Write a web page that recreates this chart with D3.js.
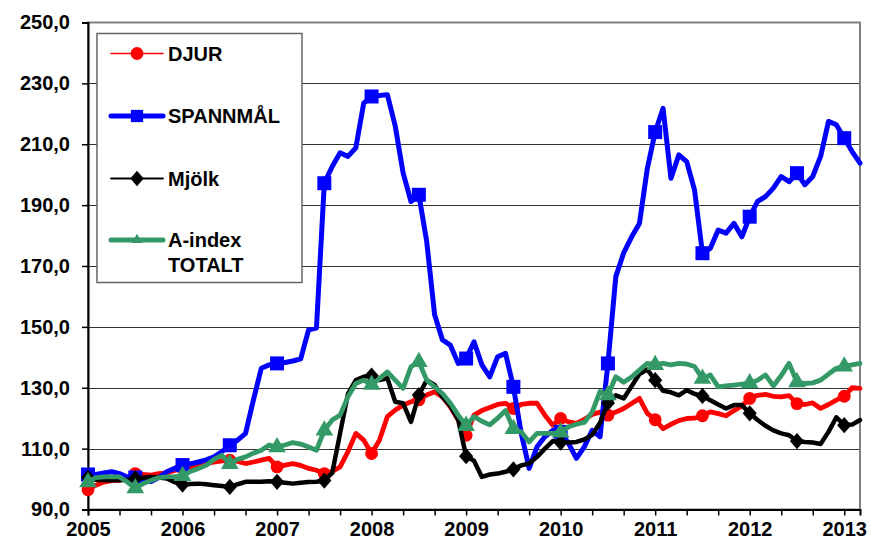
<!DOCTYPE html>
<html>
<head>
<meta charset="utf-8">
<script src="https://cdn.jsdelivr.net/npm/d3@7"></script>
<style>
  body { margin: 0; background: #fff; }
  text { font-family: "Liberation Sans", Arial, sans-serif; font-weight: bold; }
</style>
</head>
<body>
<div id="chart"></div>
<script>
// monthly index values, Jan 2005 .. Mar 2013
const years = ["2005", "2006", "2007", "2008", "2009", "2010", "2011", "2012", "2013"];
const yTicks = [90, 110, 130, 150, 170, 190, 210, 230, 250];

const djur = [96.5, 98, 99, 99.5, 99.6, 100.5, 101.8, 101.5, 101.3, 101.8, 102, 102.8,
  103.5, 104, 104.6, 105, 105.6, 106, 106.2, 105.8, 105.1, 105.6, 106.2, 106.8,
  104, 104.6, 105.1, 104.5, 103.5, 102.9, 101.8, 102.5, 104, 109, 115, 112.8,
  108.4, 112.8, 120.5, 122.7, 124.3, 125.4, 126, 127.6, 128.7, 127, 123.7, 119.4,
  114.4, 121, 122.5, 123.5, 124.5, 124.9, 123.2, 124.5, 124.9, 124.9, 121, 117.7,
  119.9, 118.8, 118.3, 119.6, 121.2, 122, 121, 122, 123.2, 124.8, 126.5, 121.6,
  119.5, 116.6, 118, 119.2, 119.9, 120, 120.8, 122.1, 121.5, 120.8, 122.5, 124,
  126.5, 127.5, 127.8, 127.2, 127, 127.4, 124.8, 124.5, 125, 123.2, 124.5, 125.9,
  127.2, 130, 129.8];

const spannmal = [101.5, 101.5, 102, 102.4, 101.8, 100.7, 100.5, 99.3, 99.2, 100.5, 102.4, 103.5,
  104.6, 105, 105.6, 106.3, 107.3, 109, 111.1, 112.8, 115, 126, 136.4, 137.5,
  138, 138.3, 138.8, 139.5, 149, 149.6, 197.2, 202.7, 207.2, 206, 208.8, 223.5,
  225.7, 226, 226.3, 216, 200.6, 191.2, 193.4, 178, 154, 145.7, 144, 138,
  139.6, 145.1, 137.5, 133.6, 140.2, 141.3, 130.3, 115, 103.5, 110.6, 113.9, 116,
  115.5, 111.7, 106.8, 110.6, 116, 113.9, 138, 166.5, 174.3, 179.5, 184, 202,
  214, 221.8, 198.8, 206.5, 204.3, 194.9, 174.2, 175.8, 181.8, 180.8, 184, 179.6,
  186.2, 191.2, 192.8, 195.6, 199.4, 197.7, 200.5, 196.7, 199.4, 206, 217.5, 216.4,
  212, 207.6, 203.8];

const mjolk = [100.5, 99.8, 99.6, 99.6, 99.6, 99.8, 100.2, 100.4, 100.7, 100.5, 100.2, 99,
  98.2, 98.4, 98.5, 98.3, 98, 97.7, 97.4, 98.3, 99.1, 99.1, 99.1, 99.3,
  99.1, 98.8, 98.5, 98.8, 99, 99.1, 99.5, 102, 115, 128, 132.5, 133.6,
  134, 132.5, 133.1, 125.4, 124.9, 118.8, 127.6, 132.5, 130.9, 127, 124, 119.4,
  107.5, 106, 100.7, 101.5, 101.8, 102.4, 103.2, 104.5, 105.1, 107.3, 110, 112.5,
  112, 112, 112.2, 113, 114.5, 118.5, 125, 127.5, 126.5, 130.5, 134.5, 136,
  132.5, 129, 128.5, 127.5, 129.2, 128, 127.3, 125.9, 124.5, 123.2, 124.3, 124.3,
  121.6, 119.4, 117.5, 116, 115, 114.4, 112.5, 112.2, 112, 111.5, 115.5, 120.3,
  117.7, 117.9, 119.4];

const aindex = [99, 100.5, 100.7, 100.7, 100.7, 99, 97, 98.5, 99.5, 100.5, 100.7, 100.8,
  101, 102.5, 103.5, 104.5, 106.5, 107.8, 105, 106.5, 107.3, 108.5, 109.5, 111.2,
  110.5, 111.2, 112, 111.5, 110.5, 109.5, 116, 119.4, 121, 127, 131.4, 132.5,
  131, 133, 135.2, 132.5, 129.8, 136.9, 138.5, 132.5, 130.3, 128.1, 124.9, 121,
  117.5, 120.5, 119, 117.8, 120, 122.5, 116.5, 115.5, 112.2, 115, 115, 115,
  115.3, 117.2, 118, 118.6, 122, 128.8, 127.6, 133.6, 131.8, 133.5, 135.8, 138,
  137.5, 138, 137.5, 138, 137.8, 137, 133, 134.2, 130.3, 130.6, 130.9, 131.2,
  131.5, 132.5, 134.2, 130.6, 134, 138, 131.8, 131.4, 131.6, 132.5, 134.5, 136.4,
  137, 137.5, 138];

// square turned 45 degrees, a bit taller than wide, like the spreadsheet diamond
const diamond = {
  draw(ctx, size) {
    const r = Math.sqrt(size / 2);
    ctx.moveTo(0, -r * 1.15);
    ctx.lineTo(r, 0);
    ctx.lineTo(0, r * 1.15);
    ctx.lineTo(-r, 0);
    ctx.closePath();
  }
};

const series = [
  {name: ["DJUR"], values: djur, color: "#ff0000", lw: 4.8, legLw: 1.5, symbol: d3.symbolCircle, size: 130, legSize: 130},
  {name: ["SPANNMÅL"], values: spannmal, color: "#0000ff", lw: 5, legLw: 5, symbol: d3.symbolSquare, size: 196, legSize: 150},
  {name: ["Mjölk"], values: mjolk, color: "#000000", lw: 4.5, legLw: 1.8, symbol: diamond, size: 100, legSize: 90},
  {name: ["A-index", "TOTALT"], values: aindex, color: "#339966", lw: 4.8, legLw: 5, symbol: d3.symbolTriangle, size: 135, legSize: 50}
];

const W = 871, H = 545;
const plotL = 88, plotR = 860, plotT = 22.5, plotB = 509.5;

const svg = d3.select("#chart").append("svg")
  .attr("width", W)
  .attr("height", H);

const x = d3.scaleLinear()
  .domain([0, djur.length - 1])
  .range([plotL, plotR]);

const y = d3.scaleLinear()
  .domain([90, 250])
  .range([plotB, plotT]);

// grid lines
svg.append("g")
  .selectAll("line")
  .data(yTicks.filter(v => v > 90 && v < 250))
  .enter()
  .append("line")
  .attr("x1", plotL)
  .attr("x2", plotR)
  .attr("y1", d => Math.round(y(d)) + 0.5)
  .attr("y2", d => Math.round(y(d)) + 0.5)
  .attr("stroke", "#333")
  .attr("stroke-width", 1.2);

// plot area border
svg.append("rect")
  .attr("x", plotL)
  .attr("y", plotT)
  .attr("width", plotR - plotL)
  .attr("height", plotB - plotT)
  .attr("fill", "none")
  .attr("stroke", "#808080")
  .attr("stroke-width", 2);

// y axis
const yAxis = svg.append("g")
  .attr("transform", "translate(" + plotL + ",0)")
  .call(d3.axisLeft(y)
    .tickValues(yTicks)
    .tickSize(6)
    .tickPadding(12)
    .tickFormat(d => d3.format(".1f")(d).replace(".", ",")));
yAxis.select(".domain").attr("stroke", "#000").attr("stroke-width", 2);
yAxis.selectAll(".tick line").attr("stroke", "#000").attr("stroke-width", 1.5);
yAxis.selectAll("text")
  .attr("font-size", "20px")
  .attr("fill", "#000")
  .attr("font-family", "'Liberation Sans', Arial, sans-serif")
  .attr("font-weight", "bold");

// x axis
const xAxis = svg.append("g")
  .attr("transform", "translate(0," + plotB + ")")
  .call(d3.axisBottom(x)
    .tickValues(d3.range(0, djur.length, 4))
    .tickSize(6)
    .tickPadding(6)
    .tickFormat(i => i % 12 === 0 ? years[i / 12] : ""));
xAxis.select(".domain").attr("stroke", "#000").attr("stroke-width", 2);
xAxis.selectAll(".tick line").attr("stroke", "#000").attr("stroke-width", 1.5);
xAxis.selectAll("text")
  .attr("font-size", "20px")
  .attr("fill", "#000")
  .attr("font-family", "'Liberation Sans', Arial, sans-serif")
  .attr("font-weight", "bold");

// lines and markers
const line = d3.line()
  .x((d, i) => x(i))
  .y(d => y(d))
  .curve(d3.curveLinear);

series.forEach(s => {
  const g = svg.append("g");
  g.append("path")
    .datum(s.values)
    .attr("d", line)
    .attr("fill", "none")
    .attr("stroke", s.color)
    .attr("stroke-width", s.lw)
    .attr("stroke-linejoin", "round")
    .attr("stroke-linecap", "round");
  g.selectAll(".m")
    .data(s.values.map((v, i) => ({v: v, i: i})).filter(d => d.i % 6 === 0))
    .enter()
    .append("path")
    .attr("d", d3.symbol().type(s.symbol).size(s.size))
    .attr("transform", d => "translate(" + x(d.i) + "," + y(d.v) + ")")
    .attr("fill", s.color);
});

// legend
const legend = svg.append("g");
legend.append("rect")
  .attr("x", 97)
  .attr("y", 33.5)
  .attr("width", 205)
  .attr("height", 249)
  .attr("fill", "#fff")
  .attr("stroke", "#666")
  .attr("stroke-width", 1.5);

const legY = [53.5, 116, 178.5, 240];
series.forEach((s, k) => {
  const cy = legY[k];
  legend.append("line")
    .attr("x1", 111).attr("x2", 163)
    .attr("y1", cy).attr("y2", cy)
    .attr("stroke", s.color)
    .attr("stroke-width", s.legLw)
    .attr("stroke-linecap", "round");
  legend.append("path")
    .attr("d", d3.symbol().type(s.symbol).size(s.legSize))
    .attr("transform", "translate(137," + cy + ")")
    .attr("fill", s.color);
  s.name.forEach((t, j) => {
    legend.append("text")
      .attr("x", 168)
      .attr("y", cy + 7 + j * 25)
      .attr("font-size", "20px")
      .attr("fill", "#000")
      .text(t);
  });
});
</script>
</body>
</html>
